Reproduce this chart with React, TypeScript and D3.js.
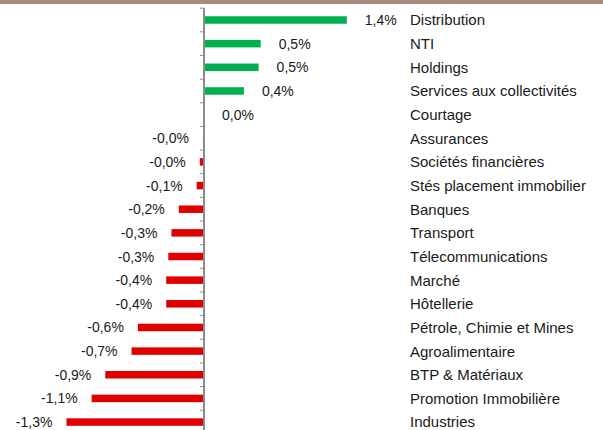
import React from "react";
import * as d3 from "d3";

const categories = [
  "Distribution",
  "NTI",
  "Holdings",
  "Services aux collectivités",
  "Courtage",
  "Assurances",
  "Sociétés financières",
  "Stés placement immobilier",
  "Banques",
  "Transport",
  "Télecommunications",
  "Marché",
  "Hôtellerie",
  "Pétrole, Chimie et Mines",
  "Agroalimentaire",
  "BTP & Matériaux",
  "Promotion Immobilière",
  "Industries",
];

const values = [
  1.36, 0.54, 0.52, 0.38, 0.0, -0.01, -0.04, -0.07, -0.24, -0.31, -0.34, -0.36,
  -0.36, -0.63, -0.69, -0.94, -1.07, -1.31,
];

const W = 603;
const H = 430;
const zeroX = 204;
const pxPerPct = 105;

const fmt = (v: number) =>
  (v < 0 ? "-" : "") + Math.abs(v).toFixed(1).replace(".", ",") + "%";

export default function App() {
  const x = d3
    .scaleLinear()
    .domain([-1.5, 1.5])
    .range([zeroX - 1.5 * pxPerPct, zeroX + 1.5 * pxPerPct]);
  const step = 23.65;
  const y = d3
    .scaleBand<string>()
    .domain(categories)
    .range([20 - step / 2, 20 - step / 2 + step * categories.length])
    .paddingInner(0)
    .paddingOuter(0);
  const barH = 7.5;
  const ticks = d3.range(categories.length + 1).map((k) => (y.range()[0] as number) + k * y.step());

  return (
    <svg
      width={W}
      height={H}
      style={{ position: "absolute", left: 0, top: 0, background: "#fff" }}
      fontFamily="'Liberation Sans', Arial, sans-serif"
    >
      <rect x={0} y={0} width={W} height={4} fill="#A88B7C" />
      {categories.map((c, i) => {
        const v = values[i];
        const cy = (y(c) as number) + y.bandwidth() / 2;
        const x0 = x(Math.min(0, v));
        const x1 = x(Math.max(0, v));
        const pos = v >= 0 && !(v === 0 && false);
        return (
          <g key={c}>
            <rect
              x={x0}
              y={cy - barH / 2}
              width={Math.max(0, x1 - x0)}
              height={barH}
              fill={v >= 0 ? "#00B050" : "#E00000"}
            />
            <text
              x={v >= 0 ? x(v) + 18 : x(v) - 14}
              y={cy}
              dy="0.36em"
              fontSize={14}
              fill="#1a1a1a"
              textAnchor={pos ? "start" : "end"}
            >
              {fmt(v)}
            </text>
            <text x={410} y={cy} dy="0.36em" fontSize={15} fill="#1a1a1a">
              {c}
            </text>
          </g>
        );
      })}
      <line x1={zeroX} x2={zeroX} y1={ticks[0]} y2={H} stroke="#8c8c8c" strokeWidth={2} />
      {ticks.map((t, k) => (
        <line key={k} x1={zeroX - 4} x2={zeroX} y1={t} y2={t} stroke="#8c8c8c" strokeWidth={1} />
      ))}
    </svg>
  );
}
